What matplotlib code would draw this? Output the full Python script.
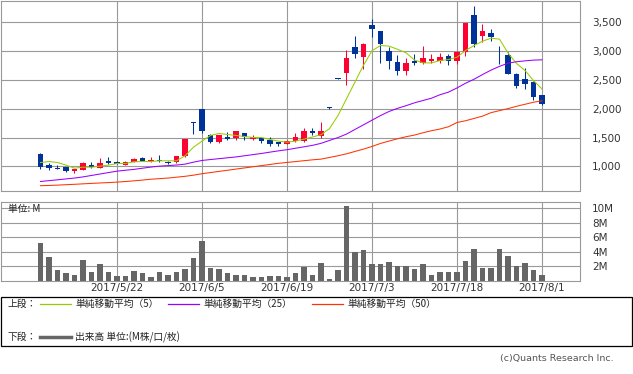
import numpy as np
import pandas as pd
import matplotlib
matplotlib.use("Agg")
import matplotlib.pyplot as plt
from matplotlib.lines import Line2D
from matplotlib.patches import Rectangle

# trading days 2017/5/9 - 2017/8/1 (7/17 was a holiday)
days = pd.bdate_range("2017-05-09", "2017-08-01")
days = days[days != pd.Timestamp("2017-07-17")]

opens = [1219, 1020, 970, 988, 914, 931, 1017, 977, 1092, 1086,
         1029, 1086, 1155, 1095, 1115, 1086, 1069, 1173, 1760, 1996,
         1536, 1420, 1501, 1484, 1570, 1472, 1484, 1455, 1420, 1386,
         1438, 1438, 1605, 1531, 2025, 2526, 2611, 3056, 2888, 3442,
         3338, 2998, 2813, 2657, 2830, 2796, 2830, 2830, 2917, 2830,
         2986, 3610, 3258, 3298, 2900, 2934, 2600, 2519, 2455, 2236]
highs = [1237, 1065, 1025, 990, 955, 1086, 1074, 1143, 1160, 1090,
         1092, 1155, 1160, 1160, 1190, 1090, 1175, 1470, 1760, 2000,
         1565, 1540, 1588, 1610, 1575, 1536, 1518, 1501, 1425, 1455,
         1570, 1657, 1657, 1774, 2030, 2530, 3021, 3263, 3130, 3540,
         3340, 3061, 2934, 2882, 2952, 3090, 2952, 2969, 2952, 2990,
         3475, 3766, 3454, 3367, 3090, 2986, 2617, 2698, 2484, 2240]
lows = [960, 935, 950, 908, 896, 931, 975, 977, 1035, 1040,
        1020, 1080, 1090, 1085, 1085, 1035, 1060, 1160, 1560, 1576,
        1403, 1403, 1455, 1455, 1455, 1465, 1403, 1351, 1351, 1380,
        1420, 1420, 1536, 1485, 2000, 2505, 2415, 2877, 2692, 3235,
        2796, 2680, 2576, 2576, 2750, 2767, 2796, 2796, 2750, 2767,
        2917, 3061, 3148, 3165, 2773, 2595, 2351, 2334, 2155, 2070]
closes = [988, 968, 955, 919, 948, 1057, 983, 1057, 1057, 1047,
          1074, 1121, 1098, 1112, 1090, 1052, 1173, 1467, 1748, 1605,
          1420, 1536, 1472, 1605, 1501, 1518, 1438, 1386, 1386, 1438,
          1518, 1605, 1570, 1618, 2008, 2509, 2882, 2940, 3125, 3373,
          3113, 2819, 2657, 2796, 2784, 2882, 2865, 2900, 2819, 2986,
          3471, 3113, 3333, 3229, 2885, 2600, 2386, 2420, 2201, 2074]

ma5 = [1069, 1086, 1069, 1023, 971, 988, 988, 1006, 1023, 1052,
       1052, 1081, 1086, 1086, 1098, 1098, 1098, 1184, 1334, 1438,
       1536, 1570, 1553, 1536, 1518, 1501, 1501, 1467, 1438, 1420,
       1438, 1472, 1510, 1549, 1655, 1880, 2170, 2460, 2750, 3000,
       3090, 3080, 3025, 2965, 2840, 2790, 2790, 2830, 2848, 2888,
       3004, 3090, 3165, 3217, 3200, 2960, 2780, 2660, 2484, 2340]
ma25 = [741, 755, 770, 785, 800, 820, 845, 870, 895, 919,
        935, 950, 970, 990, 1006, 1015, 1025, 1040, 1075, 1104,
        1120, 1135, 1150, 1165, 1185, 1205, 1225, 1248, 1270, 1290,
        1315, 1340, 1365, 1400, 1450, 1500, 1560, 1640, 1720, 1800,
        1880, 1950, 2005, 2050, 2100, 2140, 2180, 2240, 2285, 2357,
        2438, 2507, 2588, 2665, 2730, 2785, 2810, 2825, 2838, 2843]
ma50 = [668, 672, 678, 685, 692, 700, 708, 715, 722, 730,
        740, 752, 765, 780, 790, 800, 815, 830, 850, 875,
        895, 915, 935, 955, 975, 995, 1015, 1035, 1055, 1070,
        1085, 1100, 1115, 1127, 1156, 1185, 1219, 1260, 1300, 1346,
        1398, 1439, 1479, 1514, 1543, 1583, 1618, 1647, 1687, 1760,
        1790, 1830, 1870, 1930, 1965, 2000, 2040, 2075, 2110, 2135]

volume = [5.16, 3.2, 1.4, 0.98, 0.79, 2.79, 1.12, 2.23, 1.12, 0.56,
          0.56, 1.26, 0.98, 0.42, 1.12, 0.70, 1.12, 1.53, 3.07, 5.44,
          1.67, 1.53, 0.98, 0.79, 0.79, 0.42, 0.42, 0.56, 0.56, 0.42,
          0.98, 1.81, 0.70, 2.37, 0.23, 1.40, 10.3, 4.0, 4.19, 2.23,
          2.23, 2.51, 1.95, 1.95, 1.53, 2.23, 0.79, 1.12, 1.12, 1.12,
          2.65, 4.33, 1.67, 1.67, 4.33, 3.35, 1.95, 2.37, 1.40, 0.70]

tick_dates = ["2017-05-22", "2017-06-05", "2017-06-19", "2017-07-03", "2017-07-18", "2017-08-01"]
tick_labels = ["2017/5/22", "2017/6/5", "2017/6/19", "2017/7/3", "2017/7/18", "2017/8/1"]
price_ticks = [1000, 1500, 2000, 2500, 3000, 3500]
vol_ticks = [2, 4, 6, 8, 10]

W, H = 633, 374
JP = ["Noto Sans CJK JP", "DejaVu Sans"]
UP, DOWN = "#ff0033", "#003399"
GRID = "#999999"


def box(x0, y0, x1, y1):
    # pixel box (from top-left) -> figure fraction
    return [x0 / W, 1 - y1 / H, (x1 - x0) / W, (y1 - y0) / H]


x = np.arange(len(days))
o, h, l, c = map(np.array, (opens, highs, lows, closes))
colors = np.where(c >= o, UP, DOWN)
tick_pos = [days.get_loc(pd.Timestamp(d)) for d in tick_dates]

fig = plt.figure(figsize=(W / 100, H / 100), dpi=100)
ax = fig.add_axes(box(0.5, 0.5, 579.5, 190.5))
ax2 = fig.add_axes(box(0.5, 201.5, 579.5, 280.5), sharex=ax)

# upper panel: candles + moving averages
ax.vlines(x, l, h, colors=colors, lw=0.75, zorder=2)
ax.bar(x, np.maximum(np.abs(c - o), 12), bottom=np.minimum(o, c), width=0.7,
       color=colors, zorder=2)
ax.plot(x, ma5, color="#99cc00", lw=0.75, zorder=3)
ax.plot(x, ma25, color="#9900ff", lw=0.75, zorder=3)
ax.plot(x, ma50, color="#ff3300", lw=0.75, zorder=3)
ax.set_ylim(585, 3868)
ax.set_yticks(price_ticks)
ax.set_yticklabels([f"{v:,}" for v in price_ticks])

# lower panel: volume
ax2.bar(x, volume, width=0.7, color="#666666", zorder=2)
ax2.set_ylim(0, 10.93)
ax2.set_yticks(vol_ticks)
ax2.set_yticklabels([f"{v}M" for v in vol_ticks])
ax2.set_xticks(tick_pos)
ax2.set_xticklabels(tick_labels)
ax2.set_xlim(-40 / 8.5, 539 / 8.5)
ax2.text(7 / 579, 0.9, "単位: M", transform=ax2.transAxes, fontsize=7,
         family=JP, va="center", color="#222222")

for a in (ax, ax2):
    a.set_axisbelow(True)
    a.grid(True, color=GRID, lw=0.8)
    a.yaxis.tick_right()
    a.tick_params(axis="y", length=0, pad=9, labelsize=7.5, labelcolor="#333333")
    a.tick_params(axis="x", length=0, pad=2, labelsize=7.5, labelcolor="#333333")
    for s in a.spines.values():
        s.set_color(GRID)
        s.set_linewidth(0.8)
ax.tick_params(axis="x", labelbottom=False)

# legend box
fig.add_artist(Rectangle((0.5 / W, 1 - 346 / H), 631 / W, 49 / H,
                         transform=fig.transFigure, fill=False,
                         edgecolor="black", lw=0.9))


def legend_item(x0, y, color, lw, label):
    fig.add_artist(Line2D([x0 / W, (x0 + 31) / W], [1 - y / H, 1 - y / H],
                          color=color, lw=lw, transform=fig.transFigure))
    fig.text((x0 + 35) / W, 1 - y / H, label, fontsize=7, family=JP,
             va="center", color="#222222")


fig.text(8 / W, 1 - 304 / H, "上段：", fontsize=7, family=JP, va="center", color="#222222")
legend_item(40, 304, "#99cc00", 0.9, "単純移動平均（5）")
legend_item(168, 304, "#9900ff", 0.9, "単純移動平均（25）")
legend_item(312, 304, "#ff3300", 0.9, "単純移動平均（50）")
fig.text(8 / W, 1 - 337 / H, "下段：", fontsize=7, family=JP, va="center", color="#222222")
legend_item(40, 337, "#666666", 2.5, "出来高 単位:(M株/口/枚)")

fig.text(614 / W, 1 - 358 / H, "(c)Quants Research Inc.", ha="right", va="center",
         fontsize=6.8, color="#555555")

fig.savefig("out.png", dpi=100)
